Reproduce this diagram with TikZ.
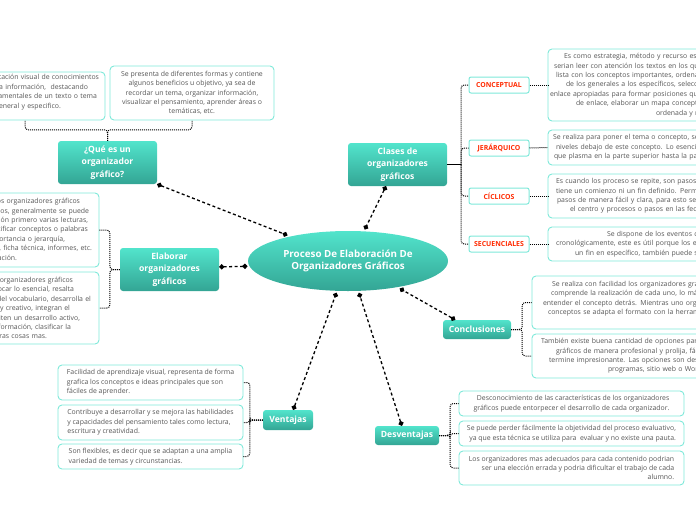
\documentclass[tikz,border=0pt]{standalone}
\usepackage{fontspec}
\setmainfont{Open Sans}
\usetikzlibrary{arrows.meta,shapes.geometric}
\definecolor{tealtop}{HTML}{52E4CC}
\definecolor{tealbot}{HTML}{33A594}
\definecolor{bord}{HTML}{7FE9DA}
\definecolor{txt}{HTML}{585858}
\definecolor{catred}{HTML}{FF2A00}
\newcommand\padR[1]{\rule{#1}{0pt}}
\tikzset{
  head/.style={rectangle, rounded corners=3pt, top color=tealtop, bottom color=tealbot,
    text=white, font=\fontsize{8.6}{12.5}\selectfont\bfseries, align=center, inner sep=0pt},
  descbox/.style={rectangle, rounded corners=4pt, draw=bord, line width=0.9pt, fill=white,
    text=txt, font=\fontsize{6.9}{9.4}\selectfont, inner sep=0pt},
  catbox/.style={rectangle, rounded corners=2pt, draw=bord, line width=1pt, fill=white,
    text=catred, font=\fontsize{6.9}{8}\selectfont\bfseries, inner sep=0pt,
    minimum width=60pt, minimum height=16pt},
  conn/.style={dash pattern=on 3pt off 2.5pt, line width=1.3pt, {Circle[length=5pt]}-{Circle[length=5pt]}},
  brace/.style={densely dotted, line width=1pt, rounded corners=3pt},
}
\begin{document}
\begin{tikzpicture}[x=1pt,y=-1pt]
\useasboundingbox (0,0) rectangle (696,520);
\clip (0,0) rectangle (696,520);

% central node
\node[ellipse, top color=tealtop, bottom color=tealbot, minimum width=200pt, minimum height=60pt,
  inner sep=0pt, outer sep=2pt, text=white, font=\fontsize{9.8}{12.7}\selectfont\bfseries, align=center]
  (main) at (348,261) {Proceso De Elaboración De\\Organizadores Gráficos};

% headings
\node[head, minimum width=99pt, minimum height=43pt] (que) at (107.5,162.5) {¿Qué es un\\organizador\\gráfico?};
\node[head, minimum width=99pt, minimum height=43pt] (clases) at (397.5,164.5) {Clases de\\organizadores\\gráficos};
\node[head, minimum width=99pt, minimum height=43pt] (elab) at (169.5,269.5) {Elaborar\\organizadores\\gráficos};
\node[head, minimum width=68pt, minimum height=19pt] (concl) at (477,329.5) {Conclusiones};
\node[head, minimum width=50pt, minimum height=20pt] (vent) at (288,420) {Ventajas};
\node[head, minimum width=64pt, minimum height=19pt] (desv) at (407,435.5) {Desventajas};

% main connectors
\draw[conn] (que.south east) -- (main.157);
\draw[conn] (clases.242) -- (main.62);
\draw[conn] (elab.3) -- (main.183);
\draw[conn] (concl.156) -- (main.332);
\draw[conn] (vent.63) -- (main.250);
\draw[conn] (desv.118) -- (main.289);

% Que es
\node[descbox, text width=160pt, align=right, minimum height=48pt] (q1) at (25,96)
 {representación visual de conocimientos\padR{6pt}\\
  presenta la información,\ \ destacando\padR{17pt}\\
  aspectos fundamentales de un texto o tema\padR{8pt}\\
  en general y especifico.\padR{44pt}\\ \mbox{}};
\node[descbox, minimum width=164pt, minimum height=54pt, align=center] (q2) at (192,93)
 {Se presenta de diferentes formas y contiene\\
  algunos beneficios u objetivo, ya sea de\\
  recordar un tema, organizar información,\\
  visualizar el pensamiento, aprender áreas o\\
  temáticas, etc.};
\draw[brace] (que.north) -- ++(0,-11) -| (q1.south);
\draw[brace] (que.north) -- ++(0,-11) -| (q2.south);

% Elaborar
\node[descbox, text width=199pt, align=right, minimum height=74pt] (e1) at (-0.5,230)
 {Para elaborar los organizadores gráficos\padR{19pt}\\
  primero debemos, generalmente se puede\padR{10pt}\\
  realizar la selección primero varias lecturas,\padR{11pt}\\
  para identificar conceptos o palabras\padR{11pt}\\
  clave según su importancia o jerarquía,\padR{34pt}\\
  el tipo: mapa, ficha técnica, informes, etc.\padR{7pt}\\
  y su elaboración.\padR{82pt}};
\node[descbox, text width=199pt, align=right, minimum height=72pt] (e2) at (-0.5,308)
 {Los beneficios de los organizadores gráficos\padR{26pt}\\
  son: permiten enfocar lo esencial, resalta\padR{25pt}\\
  la comprensión del vocabulario, desarrolla el\padR{8pt}\\
  pensamiento crítico y creativo, integran el\padR{29pt}\\
  conocimiento, permiten un desarrollo activo,\padR{19pt}\\
  integran nueva información, clasificar la\padR{28pt}\\
  información entre otras cosas mas.\padR{52pt}};
\draw[brace] (elab.west) -- ++(-10,0) |- (e1.east);
\draw[brace] (elab.west) -- ++(-10,0) |- (e2.east);

% Clases
\node[catbox] (c1) at (499,85) {CONCEPTUAL};
\node[catbox] (c2) at (499,148) {JERÁRQUICO};
\node[catbox] (c3) at (499,196) {CÍCLICOS};
\node[catbox] (c4) at (499,244) {SECUENCIALES};
\draw[line width=1.6pt] (clases.east) -- ++(14,0) coordinate (cj);
\foreach \c in {c1,c2,c3,c4} \draw[brace] (cj) |- (\c.west);

\node[descbox, text width=300pt, align=left, minimum height=72pt] (d1) at (698,85)
 {\hspace*{16pt}Es como estrategia, método y recurso esencial para\\
  \hspace*{6pt}serian leer con atención los textos en los que se\\
  \hspace*{8pt}lista con los conceptos importantes, ordenarlos\\
  \hspace*{18pt}de los generales a los específicos, seleccionar\\
  \hspace*{2pt}enlace apropiadas para formar posiciones que\\
  \hspace*{28pt}de enlace, elaborar un mapa conceptual\\
  \hspace*{108pt}ordenada y resumida.};
\node[descbox, text width=300pt, align=left, minimum height=35pt] (d2) at (698,147.5)
 {\hspace*{5pt}Se realiza para poner el tema o concepto, se\\
  \hspace*{8pt}niveles debajo de este concepto. Lo esencial\\
  \hspace*{6pt}que plasma en la parte superior hasta la parte};
\node[descbox, text width=300pt, align=left, minimum height=44pt] (d3) at (698,196)
 {\hspace*{8pt}Es cuando los proceso se repite, son pasos que\\
  \hspace*{8pt}tiene un comienzo ni un fin definido. Permite\\
  \hspace*{9pt}pasos de manera fácil y clara, para esto se\\
  \hspace*{22pt}el centro y procesos o pasos en las fechas};
\node[descbox, text width=300pt, align=left, minimum height=34pt] (d4) at (698,244)
 {\hspace*{59pt}Se dispone de los eventos de\\
  \hspace*{8pt}cronológicamente, este es útil porque los eventos\\
  \hspace*{27pt}un fin en específico, también puede ser};
\draw[brace] (c1.east) -- (d1.west);
\draw[brace] (c2.east) -- (d2.west);
\draw[brace] (c3.east) -- (d3.west);
\draw[brace] (c4.east) -- (d4.west);

% Conclusiones
\node[descbox, text width=300pt, align=left, minimum height=53pt] (k1) at (682,302.5)
 {\hspace*{20pt}Se realiza con facilidad los organizadores gráficos\\
  \hspace*{19pt}comprende la realización de cada uno, lo más\\
  \hspace*{11pt}entender el concepto detrás. Mientras uno organiza\\
  \hspace*{16pt}conceptos se adapta el formato con la herramienta\\ \mbox{}};
\node[descbox, text width=300pt, align=left, minimum height=44pt] (k2) at (682,356)
 {\hspace*{9pt}También existe buena cantidad de opciones para\\
  \hspace*{24pt}gráficos de manera profesional y prolija, fácil\\
  \hspace*{17pt}termine impresionante. Las opciones son desde\\
  \hspace*{76pt}programas, sitio web o Word.};
\draw[brace] (concl.east) -- ++(11,0) |- (k1.west);
\draw[brace] (concl.east) -- ++(11,0) |- (k2.west);

% Ventajas
\node[descbox, minimum width=185pt, minimum height=35pt, align=left] (v1) at (150.5,382.5)
 {Facilidad de aprendizaje visual, representa de forma\\
  grafica los conceptos e ideas principales que son\\
  fáciles de aprender.};
\node[descbox, minimum width=185pt, minimum height=35pt, align=left] (v2) at (150.5,422.5)
 {Contribuye a desarrollar y se mejora las habilidades\\
  y capacidades del pensamiento tales como lectura,\\
  escritura y creatividad.};
\node[descbox, minimum width=185pt, minimum height=25pt, align=left] (v3) at (150.5,456.5)
 {Son flexibles, es decir que se adaptan a una amplia\\
  variedad de temas y circunstancias.};
\draw[brace] (vent.west) -- ++(-13,0) |- (v1.east);
\draw[brace] (vent.west) -- ++(-13,0) |- (v2.east);
\draw[brace] (vent.west) -- ++(-13,0) |- (v3.east);

% Desventajas
\node[descbox, minimum width=225pt, minimum height=25pt, align=right] (w1) at (571.5,403.5)
 {Desconocimiento de las características de los organizadores\\
  gráficos puede entorpecer el desarrollo de cada organizador.};
\node[descbox, minimum width=225pt, minimum height=25pt, align=right] (w2) at (571.5,433.5)
 {Se puede perder fácilmente la objetividad del proceso evaluativo,\\
  ya que esta técnica se utiliza para\ \ evaluar y no existe una pauta.};
\node[descbox, minimum width=225pt, minimum height=34pt, align=right] (w3) at (571.5,468)
 {Los organizadores mas adecuados para cada contenido podrian\\
  ser una elección errada y podria dificultar el trabajo de cada\\
  alumno.};
\draw[brace] (desv.east) -- ++(11,0) |- (w1.west);
\draw[brace] (desv.east) -- ++(11,0) |- (w2.west);
\draw[brace] (desv.east) -- ++(11,0) |- (w3.west);
\end{tikzpicture}
\end{document}
